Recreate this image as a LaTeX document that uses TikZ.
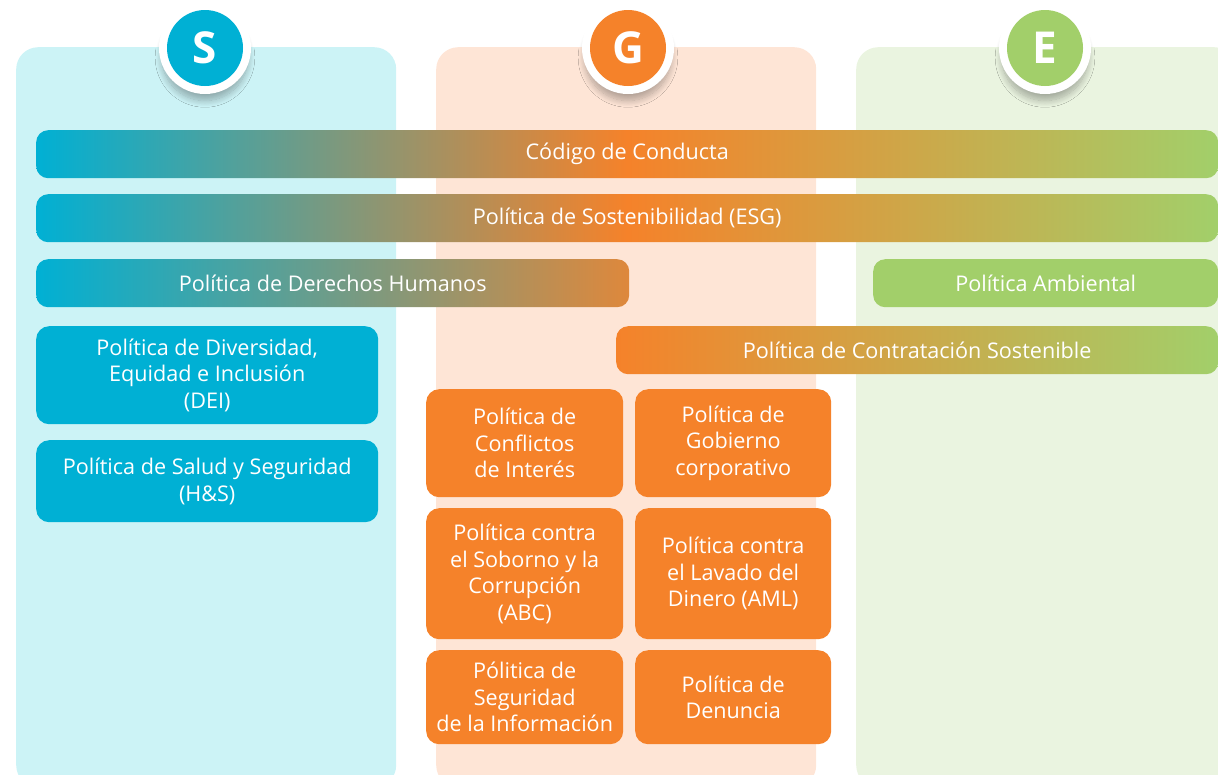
\documentclass[tikz,border=0pt]{standalone}
\usepackage{fontspec}
\setmainfont{Open Sans}
\usetikzlibrary{shadows.blur}
\definecolor{cS}{RGB}{0,176,212}
\definecolor{cG}{RGB}{245,130,42}
\definecolor{cE}{RGB}{162,207,106}
\definecolor{bS}{RGB}{204,243,246}
\definecolor{bG}{RGB}{254,229,214}
\definecolor{bE}{RGB}{234,244,224}
\definecolor{cDH}{RGB}{222,136,60}
\tikzset{
  txt/.style={font=\fontsize{21.6}{26.5}\selectfont, text=white, align=center, inner sep=0pt},
  colbox/.style={rounded corners=22pt, minimum width=380pt, minimum height=740pt, anchor=north west, inner sep=0pt, draw=none},
  bar/.style={txt, rounded corners=12pt, minimum height=48pt, anchor=north west},
  tribar/.style={bar, left color=cS, right color=cE, middle color=cG},
  pbox/.style={txt, rounded corners=13pt, anchor=north west, fill=cG},
  ring/.style={circle, fill=white, minimum size=92pt, inner sep=0pt,
    blur shadow={shadow xshift=0pt, shadow yshift=-10pt, shadow scale=0.94, shadow blur radius=7pt, shadow blur steps=12, shadow opacity=30}},
  disc/.style={circle, minimum size=76pt, inner sep=0pt, text=white, font=\fontsize{44}{44}\selectfont\bfseries}
}
\begin{document}
\begin{tikzpicture}[x=1pt,y=-1pt]
\useasboundingbox (0,0) rectangle (1218,774);
\clip (0,0) rectangle (1218,774);
% columns
\node[colbox, fill=bS] (colS) at (16,47) {};
\node[colbox, fill=bG] (colG) at (436,47) {};
\node[colbox, fill=bE] (colE) at (856,47) {};
% headers
\node[ring] (ringS) at (205,48) {};
\node[disc, fill=cS] (hS) at (ringS) {S};
\node[ring] (ringG) at (628,48) {};
\node[disc, fill=cG] (hG) at (ringG) {G};
\node[ring] (ringE) at (1045,48) {};
\node[disc, fill=cE] (hE) at (ringE) {E};
% bars
\node[tribar, minimum width=1182pt] (cod) at (36,130) {Código de Conducta};
\node[tribar, minimum width=1182pt] (esg) at (36,194) {Política de Sostenibilidad (ESG)};
\node[bar, minimum width=593pt, left color=cS, right color=cDH] (dh) at (36,259) {Política de Derechos Humanos};
\node[bar, minimum width=345pt, fill=cE] (amb) at (873,259) {Política Ambiental};
\node[bar, minimum width=602pt, left color=cG, right color=cE] (cont) at (616,326) {Política de Contratación Sostenible};
% S boxes
\node[pbox, fill=cS, minimum width=342pt, minimum height=98pt] (dei) at (36,326) {Política de Diversidad,\\Equidad e Inclusión\\(DEI)};
\node[pbox, fill=cS, minimum width=342pt, minimum height=82pt] (hs) at (36,440) {Política de Salud y Seguridad\\(H\&S)};
% G boxes
\node[pbox, minimum width=197pt, minimum height=108pt] (ci) at (426,389) {Política de\\Conflictos\\de Interés};
\node[pbox, minimum width=196pt, minimum height=108pt] (gc) at (635,389) {Política de\\Gobierno\\corporativo};
\node[pbox, minimum width=197pt, minimum height=131pt] (abc) at (426,508) {Política contra\\el Soborno y la\\Corrupción\\(ABC)};
\node[pbox, minimum width=196pt, minimum height=131pt] (aml) at (635,508) {Política contra\\el Lavado del\\Dinero (AML)};
\node[pbox, minimum width=197pt, minimum height=94pt] (si) at (426,650) {Pólitica de\\Seguridad\\de la Información};
\node[pbox, minimum width=196pt, minimum height=94pt] (den) at (635,650) {Política de\\Denuncia};
\end{tikzpicture}
\end{document}
